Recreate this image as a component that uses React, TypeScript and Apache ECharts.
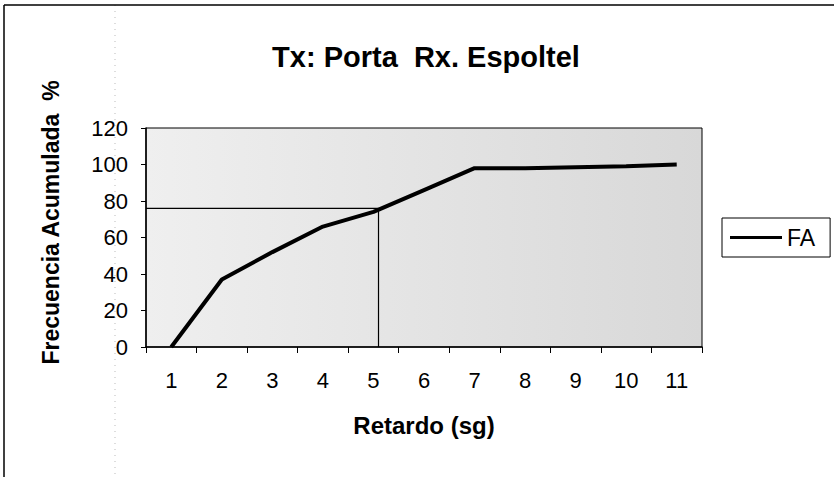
import React, { useEffect, useRef } from "react";
import * as echarts from "echarts";

const categories = ["1", "2", "3", "4", "5", "6", "7", "8", "9", "10", "11"];
const faValues = [0, 37, 52, 66, 74, 86, 98, 98, 98.5, 99, 100];
const refLineX = [0.5, 5.1, 5.1];
const refLineY = [76, 76, 0];
const yTicks = { min: 0, max: 120, interval: 20 };

export default function App() {
  const ref = useRef<HTMLDivElement>(null);
  useEffect(() => {
    if (!ref.current) return;
    const chart = echarts.init(ref.current, undefined, { renderer: "svg" });
    const font = "'Liberation Sans', Arial, sans-serif";
    chart.setOption({
      animation: false,
      backgroundColor: "#ffffff",
      textStyle: { fontFamily: font, color: "#000" },
      title: {
        text: "Tx: Porta  Rx. Espoltel",
        left: 421,
        textAlign: "center",
        top: 37,
        textStyle: { fontFamily: font, fontSize: 29, fontWeight: "bold", color: "#000" },
      },
      grid: {
        left: 146,
        top: 128,
        width: 556,
        height: 219,
        show: true,
        borderColor: "#000",
        borderWidth: 1,
        backgroundColor: new echarts.graphic.LinearGradient(0, 0, 1, 0, [
          { offset: 0, color: "#efefef" },
          { offset: 1, color: "#d8d8d8" },
        ]),
      },
      legend: {
        left: 722,
        top: 218,
        orient: "vertical",
        padding: [8, 15, 8, 8],
        borderColor: "#000",
        borderWidth: 1,
        itemWidth: 52,
        itemHeight: 3,
        itemGap: 5,
        textStyle: { fontFamily: font, fontSize: 23, color: "#000" },
        data: [{ name: "FA", icon: "rect" }],
      },
      xAxis: [
        {
          type: "category",
          data: categories,
          boundaryGap: true,
          name: "Retardo (sg)",
          nameLocation: "middle",
          nameGap: 66,
          nameTextStyle: { fontFamily: font, fontSize: 24, fontWeight: "bold", color: "#000" },
          axisLine: { lineStyle: { color: "#000", width: 1.5 } },
          axisTick: { show: true, length: 6, alignWithLabel: false, lineStyle: { color: "#000" } },
          axisLabel: { fontFamily: font, fontSize: 22, color: "#000", margin: 22, interval: 0 },
          splitLine: { show: false },
        },
        {
          type: "value",
          min: 0.5,
          max: 11.5,
          show: false,
          position: "bottom",
        },
      ],
      yAxis: {
        type: "value",
        min: yTicks.min,
        max: yTicks.max,
        interval: yTicks.interval,
        name: "Frecuencia Acumulada  %",
        nameLocation: "middle",
        nameGap: 84,
        nameRotate: 90,
        nameTextStyle: {
          fontFamily: font,
          fontSize: 23,
          fontWeight: "bold",
          color: "#000",
          padding: [0, 0, 0, 30],
        },
        axisLine: { show: true, lineStyle: { color: "#000", width: 1.5 } },
        axisTick: { show: true, length: 5, lineStyle: { color: "#000" } },
        axisLabel: { fontFamily: font, fontSize: 22, color: "#000", margin: 18 },
        splitLine: { show: false },
      },
      series: [
        {
          name: "FA",
          type: "line",
          xAxisIndex: 0,
          data: faValues,
          symbol: "none",
          lineStyle: { color: "#000", width: 4 },
          itemStyle: { color: "#000" },
          z: 3,
        },
        {
          name: "ref",
          type: "line",
          xAxisIndex: 1,
          data: refLineX.map((x, i) => [x, refLineY[i]]),
          symbol: "none",
          lineStyle: { color: "#000", width: 1.2 },
          z: 2,
        },
      ],
      graphic: [
        {
          type: "line",
          shape: { x1: 4, y1: 5, x2: 900, y2: 5 },
          style: { stroke: "#000", lineWidth: 1.5 },
        },
        {
          type: "line",
          shape: { x1: 4, y1: 5, x2: 4, y2: 500 },
          style: { stroke: "#000", lineWidth: 1.5 },
        },
        {
          type: "line",
          shape: { x1: 115, y1: 5, x2: 115, y2: 477 },
          style: { stroke: "#bbbbbb", lineWidth: 1, lineDash: [1, 5] },
          z: -1,
        },
      ],
    });
    return () => chart.dispose();
  }, []);
  return (
    <div
      ref={ref}
      style={{ position: "fixed", left: 0, top: 0, width: 834, height: 477 }}
    />
  );
}
